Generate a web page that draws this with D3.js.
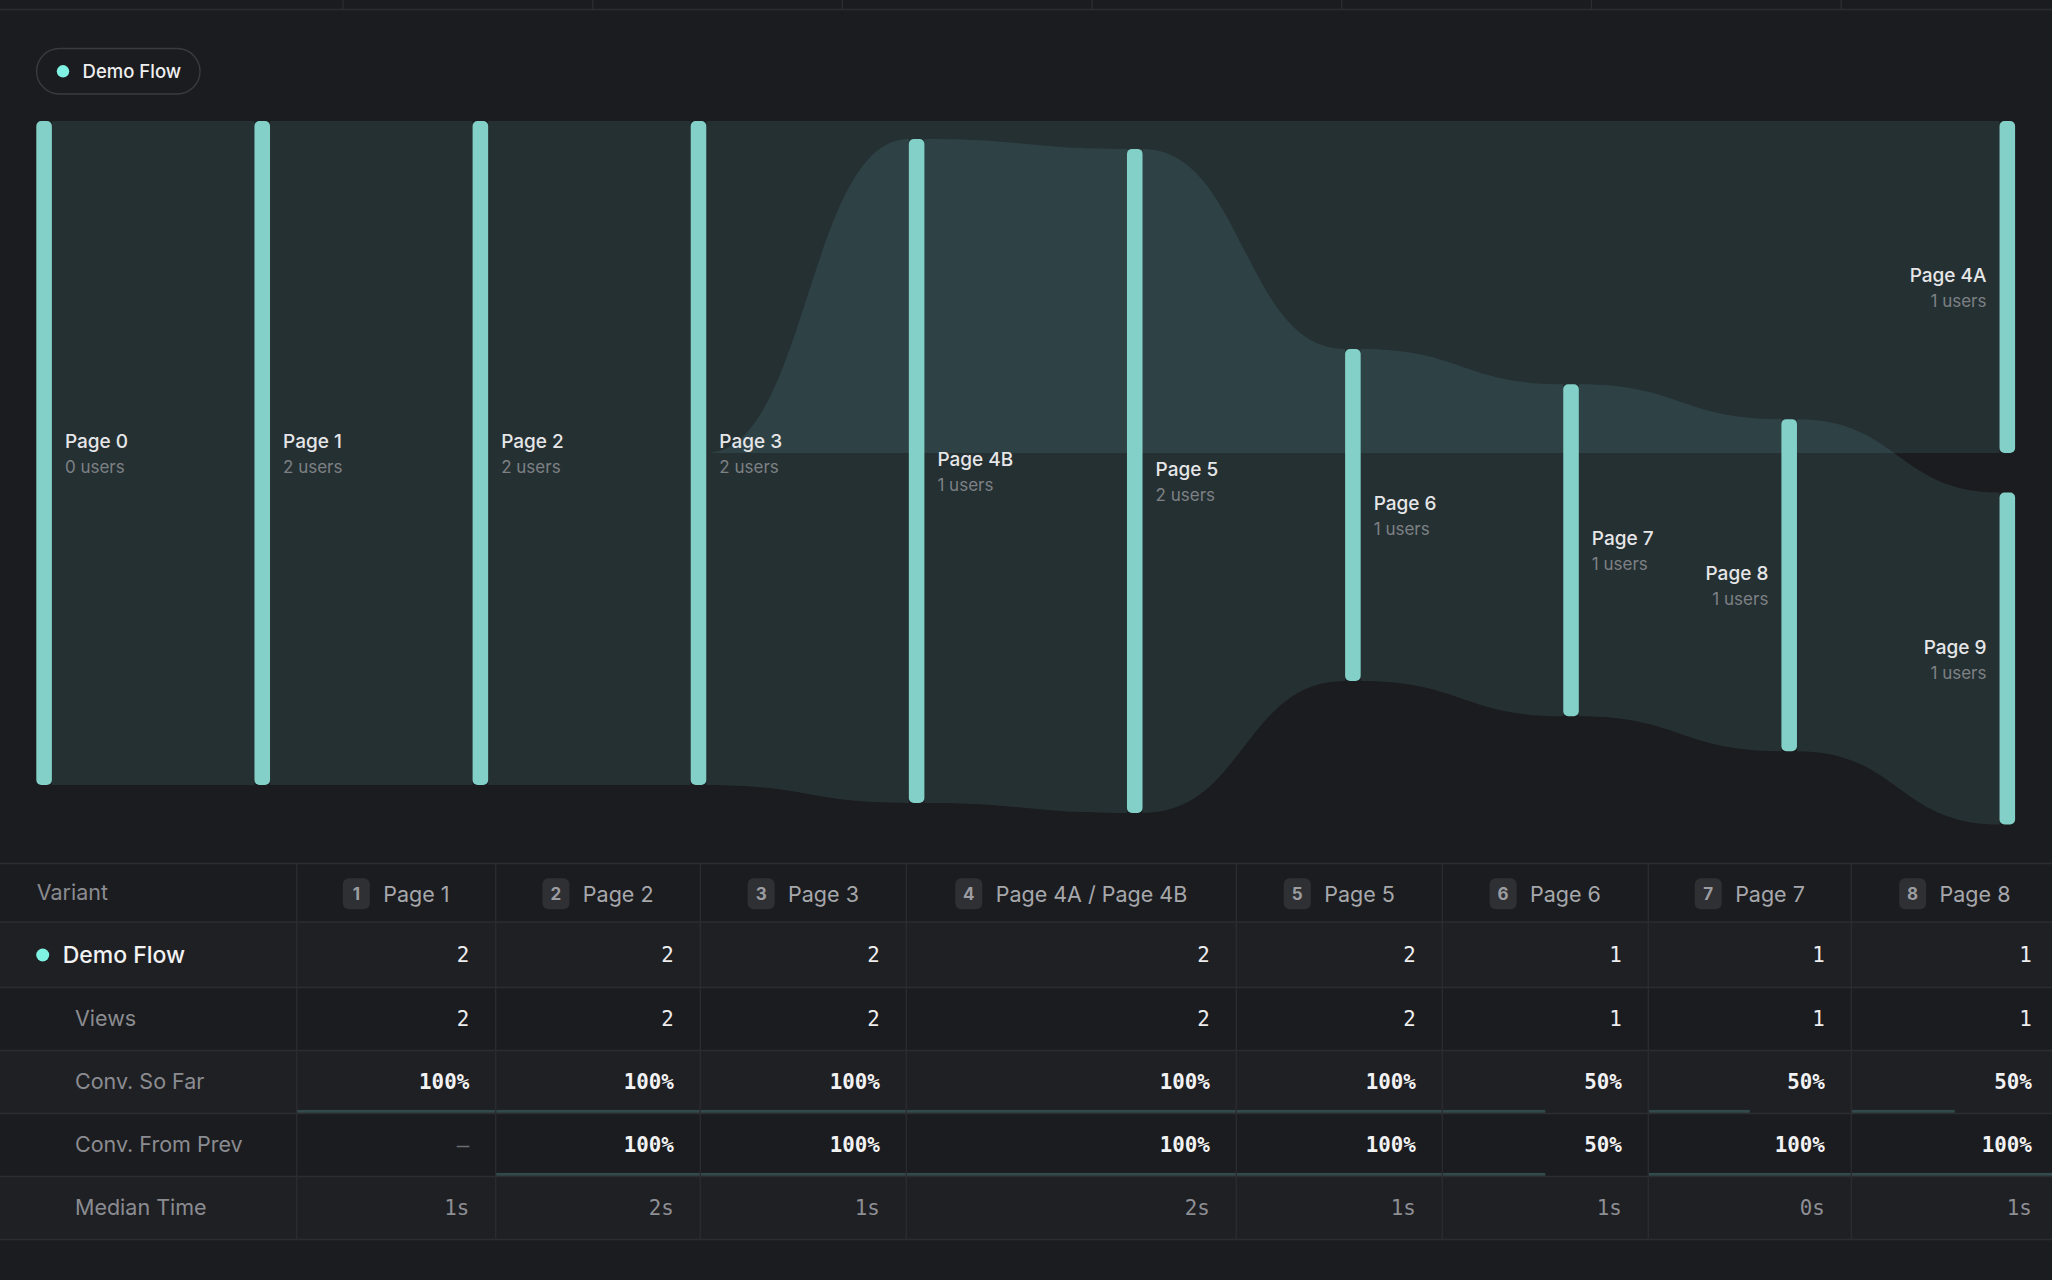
<!DOCTYPE html>
<html><head><meta charset="utf-8">
<script src="https://cdn.jsdelivr.net/npm/d3@7"></script>
<style>
html,body{margin:0;padding:0;background:#1b1c1f;overflow:hidden;}
svg{display:block;}
text{font-family:Inter,"Noto Sans",sans-serif;}
text.mono{font-family:"DejaVu Sans Mono",monospace;}
</style></head><body>
<svg id="chart" width="2052" height="1280"></svg>
<script>
// ---------------- data ----------------
const seriesName  = "Demo Flow";
const nodeNames   = ["Page 0","Page 1","Page 2","Page 3","Page 4B","Page 5","Page 6","Page 7","Page 8","Page 4A","Page 9"];
const nodeColumns = [0,1,2,3,4,5,6,7,8,9,9];
const nodeUsers   = [0,2,2,2,1,2,1,1,1,1,1];
const nodeSizes   = [2,2,2,2,2,2,1,1,1,1,1];
const nodeOffsets = [0,0,0,0,0.054,0.084,0.687,0.793,0.898,0,1.119];
const linkSources = [0,1,2,3,3,4,5,6,7,8];
const linkTargets = [1,2,3,9,4,5,6,7,8,10];
const linkSourceSpans = [[0,2],[0,2],[0,2],[0,1],[1,2],[0,2],[0,2],[0,1],[0,1],[0,1]];
const linkTargetSpans = [[0,2],[0,2],[0,2],[0,1],[0,2],[0,2],[0,1],[0,1],[0,1],[0,1]];

const stepNumbers  = [1,2,3,4,5,6,7,8];
const stepNames    = ["Page 1","Page 2","Page 3","Page 4A / Page 4B","Page 5","Page 6","Page 7","Page 8"];
const flowUsers    = [2,2,2,2,2,1,1,1];
const views        = [2,2,2,2,2,1,1,1];
const convSoFar    = [100,100,100,100,100,50,50,50];
const convFromPrev = [null,100,100,100,100,50,100,100];
const medianTime   = ["1s","2s","1s","2s","1s","1s","0s","1s"];
const rowLabels    = ["Views","Conv. So Far","Conv. From Prev","Median Time"];

// ---------------- layout constants ----------------
const W = 2052, H = 1280;
const BG = "#1b1c1f", NODE = "#82d0c7", DOT = "#7ff2e3", BAND = "#7fd0cf";
const LINE = "#2c2d31", STRIPE = "#1f2024";
const colEdges = [0,296.7,495.7,700.3,906.3,1236.3,1442.3,1648.3,1851.3,2058.3];
const rowEdges = [863.5,922,987.5,1050.5,1113.5,1176.5,1239.5];
const nodeW = 15.6;

const svg = d3.select("#chart");
svg.append("rect").attr("width",W).attr("height",H).attr("fill",BG);

// top cut-off header lines
const topG = svg.append("g").attr("stroke",LINE).attr("stroke-width",1.3);
topG.append("line").attr("x1",0).attr("x2",W).attr("y1",9.5).attr("y2",9.5);
d3.range(7).forEach(i=>{
  const xx = 343 + 249.7*i;
  topG.append("line").attr("x1",xx).attr("x2",xx).attr("y1",0).attr("y2",9.5);
});

// legend pill
const leg = svg.append("g");
leg.append("rect").attr("x",36.6).attr("y",48.5).attr("width",163.4).attr("height",45.5)
  .attr("rx",22.75).attr("fill",BG).attr("stroke","#3a3b40").attr("stroke-width",1.4);
leg.append("circle").attr("cx",63).attr("cy",71.3).attr("r",6.2).attr("fill",DOT);
leg.append("text").attr("x",82.6).attr("y",78).attr("fill","#eeeeef")
  .attr("font-size",18.5).attr("font-weight",500).text(seriesName);

// ---------------- flow chart ----------------
const x = d3.scaleLinear().domain([0,9]).range([36.3,1999.5]);
const y = d3.scaleLinear().domain([0,2]).range([121,785]);
const unit = y(1)-y(0);

const nodes = nodeNames.map((name,i)=>({
  name, users:nodeUsers[i], col:nodeColumns[i],
  x0:x(nodeColumns[i]), x1:x(nodeColumns[i])+nodeW,
  y0:y(nodeOffsets[i]), y1:y(nodeOffsets[i]+nodeSizes[i])
}));
const links = linkSources.map((s,i)=>({
  source:nodes[s], target:nodes[linkTargets[i]],
  ss:linkSourceSpans[i], ts:linkTargetSpans[i]
}));

function bandPath(l){
  const sx = l.source.x1, tx = l.target.x0, mx = (sx+tx)/2;
  const sy0 = l.source.y0 + l.ss[0]*unit, sy1 = l.source.y0 + l.ss[1]*unit;
  const ty0 = l.target.y0 + l.ts[0]*unit, ty1 = l.target.y0 + l.ts[1]*unit;
  const p = d3.path();
  p.moveTo(sx,sy0);
  p.bezierCurveTo(mx,sy0,mx,ty0,tx,ty0);
  p.lineTo(tx,ty1);
  p.bezierCurveTo(mx,ty1,mx,sy1,sx,sy1);
  p.closePath();
  return p.toString();
}

svg.append("g").selectAll("path").data(links).join("path")
  .attr("d",bandPath).attr("fill",BAND).attr("fill-opacity",0.115);

svg.append("g").selectAll("rect").data(nodes).join("rect")
  .attr("x",d=>d.x0).attr("y",d=>d.y0).attr("width",nodeW).attr("height",d=>d.y1-d.y0)
  .attr("rx",5).attr("fill",NODE);

const lab = svg.append("g").selectAll("g").data(nodes).join("g");
const leftSide = d => d.x0 > W*0.85;
lab.append("text")
  .attr("x",d=>leftSide(d)? d.x0-13 : d.x1+13)
  .attr("y",d=>(d.y0+d.y1)/2-5)
  .attr("text-anchor",d=>leftSide(d)?"end":"start")
  .attr("fill","#e6e6e8").attr("font-size",19).attr("font-weight",500)
  .text(d=>d.name);
lab.append("text")
  .attr("x",d=>leftSide(d)? d.x0-13 : d.x1+13)
  .attr("y",d=>(d.y0+d.y1)/2+20)
  .attr("text-anchor",d=>leftSide(d)?"end":"start")
  .attr("fill","#7d8084").attr("font-size",17)
  .text(d=>d.users+" users");

// ---------------- table ----------------
const tbl = svg.append("g");
[1,3,5].forEach(r=>{
  tbl.append("rect").attr("x",0).attr("y",rowEdges[r]).attr("width",W)
    .attr("height",rowEdges[r+1]-rowEdges[r]).attr("fill",STRIPE);
});
const rowMid = r => (rowEdges[r]+rowEdges[r+1])/2;
const colL = c => colEdges[c+1], colR = c => colEdges[c+2];

function bars(vals,row){
  vals.forEach((v,c)=>{
    if(v==null) return;
    const w = d3.scaleLinear().domain([0,100]).range([0,colR(c)-colL(c)]);
    tbl.append("rect").attr("x",colL(c)).attr("y",rowEdges[row+1]-3.6)
      .attr("width",w(v)).attr("height",3).attr("fill","#324a4b");
  });
}
bars(convSoFar,3);
bars(convFromPrev,4);

const grid = tbl.append("g").attr("stroke",LINE).attr("stroke-width",1.3);
rowEdges.forEach(yy=>grid.append("line").attr("x1",0).attr("x2",W).attr("y1",yy).attr("y2",yy));
colEdges.slice(1,-1).forEach(xx=>grid.append("line").attr("x1",xx).attr("x2",xx)
  .attr("y1",rowEdges[0]).attr("y2",rowEdges[rowEdges.length-1]));

// header
tbl.append("text").attr("x",36.7).attr("y",900).attr("fill","#8a8b90")
  .attr("font-size",21.5).text("Variant");
stepNames.forEach((name,c)=>{
  const g = tbl.append("g");
  const t = g.append("text").attr("y",901.5).attr("fill","#a6a7ab")
    .attr("font-size",21.5).text(name);
  const tw = t.node().getComputedTextLength();
  const total = 27 + 13.4 + tw;
  const sx = (colL(c)+colR(c))/2 - total/2;
  g.insert("rect","text").attr("x",sx).attr("y",878.3).attr("width",27).attr("height",31)
    .attr("rx",6).attr("fill","#2f3034");
  g.append("text").attr("x",sx+13.5).attr("y",900).attr("text-anchor","middle")
    .attr("fill","#9c9da1").attr("font-size",17).attr("font-weight",700).text(stepNumbers[c]);
  t.attr("x",sx+27+13.4);
});

// series row
tbl.append("circle").attr("cx",42.7).attr("cy",955).attr("r",6.5).attr("fill",DOT);
tbl.append("text").attr("x",62.7).attr("y",963).attr("fill","#f2f2f3")
  .attr("font-size",23).attr("font-weight",500).text(seriesName);

rowLabels.forEach((l,i)=>{
  tbl.append("text").attr("x",75).attr("y",rowMid(i+2)+6.5).attr("fill","#8b8c91")
    .attr("font-size",21.5).text(l);
});

function values(arr,row,fmt,fill,weight){
  arr.forEach((v,c)=>{
    tbl.append("text").attr("class","mono")
      .attr("x",colR(c)-26.5).attr("y",rowMid(row)+7.3)
      .attr("text-anchor","end")
      .attr("font-size",20.8).attr("font-weight",v==null?400:weight)
      .attr("fill",v==null?"#6c6d72":fill)
      .text(v==null?"–":fmt(v));
  });
}
values(flowUsers,1,v=>v,"#ededee",400);
values(views,2,v=>v,"#ededee",400);
values(convSoFar,3,v=>v+"%","#f2f2f3",700);
values(convFromPrev,4,v=>v+"%","#f2f2f3",700);
values(medianTime,5,v=>v,"#8e8f94",400);
</script>
</body></html>
